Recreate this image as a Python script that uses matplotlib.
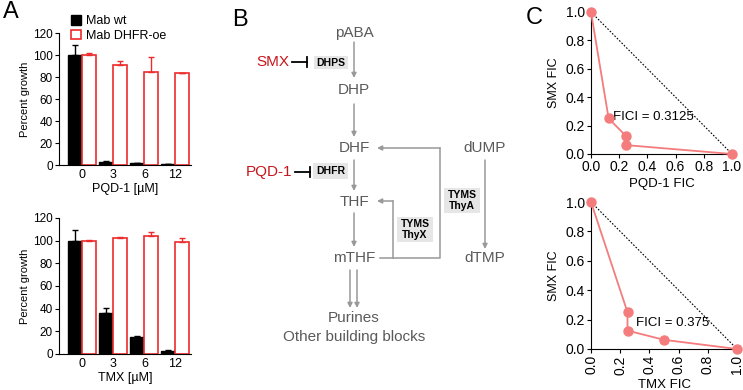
import numpy as np
import matplotlib.pyplot as plt
from matplotlib.patches import Patch

plt.rcParams['font.family'] = ['Liberation Sans', 'DejaVu Sans']

# panel A data
conc_pqd = ['0', '3', '6', '12']
pqd_wt = [100, 3, 1.5, 0.5]
pqd_wt_err = [9, 0.5, 0.5, 0.3]
pqd_oe = [100, 90.5, 85, 83.5]
pqd_oe_err = [1.5, 4, 13, 0.5]

conc_tmx = ['0', '3', '6', '12']
tmx_wt = [100, 36, 15, 3]
tmx_wt_err = [9, 5, 1, 0.5]
tmx_oe = [99.5, 102, 104, 98.5]
tmx_oe_err = [1.5, 1, 4, 4]

# panel C data (isobolograms)
pqd_fic = [0, 0.125, 0.25, 0.25, 1.0]
smx_fic_pqd = [1.0, 0.25, 0.125, 0.0625, 0]
tmx_fic = [0, 0.25, 0.25, 0.5, 1.0]
smx_fic_tmx = [1.0, 0.25, 0.125, 0.0625, 0]
fici_pqd = 0.3125
fici_tmx = 0.375

RED = '#ee2b2b'
PINK = '#f47c7c'
GRAY = '#5a5a5a'
ARROW = '#999999'

W, H = 743, 390
fig = plt.figure(figsize=(W / 100, H / 100), dpi=100)


def px_axes(x0, y0, x1, y1):
    return fig.add_axes([x0 / W, 1 - y1 / H, (x1 - x0) / W, (y1 - y0) / H])


def bar_panel(ax, labels, wt, wt_err, oe, oe_err, xlabel):
    x = np.arange(len(labels))
    bw = 0.45
    ax.bar(x - bw / 2, wt, bw, color='black', edgecolor='black', lw=1,
           yerr=[np.zeros(len(wt)), wt_err], capsize=2.5,
           error_kw=dict(ecolor='black', lw=1, capthick=1))
    ax.bar(x + bw / 2, oe, bw, color='white', edgecolor=RED, lw=1.2,
           yerr=[np.zeros(len(oe)), oe_err], capsize=2.5,
           error_kw=dict(ecolor=RED, lw=1, capthick=1))
    ax.set_xlim(-0.75, 3.5)
    ax.set_ylim(0, 120)
    ax.set_yticks(range(0, 121, 20))
    ax.set_xticks(x)
    ax.set_xticklabels(labels)
    ax.tick_params(axis='x', length=0, labelsize=9, pad=3)
    ax.tick_params(axis='y', length=3, labelsize=8.5, pad=1.5)
    ax.minorticks_off()
    ax.spines[['top', 'right']].set_visible(False)
    ax.set_ylabel('Percent growth', fontsize=8, labelpad=2)
    ax.set_xlabel(xlabel, fontsize=9, labelpad=1)


axA1 = px_axes(59, 33, 191, 165)
bar_panel(axA1, conc_pqd, pqd_wt, pqd_wt_err, pqd_oe, pqd_oe_err, 'PQD-1 [µM]')
axA1.legend(handles=[Patch(facecolor='black', edgecolor='black'),
                     Patch(facecolor='white', edgecolor=RED, lw=1.2)],
            labels=['Mab wt', 'Mab DHFR-oe'], frameon=False, fontsize=9,
            handlelength=0.8, handleheight=0.8, handletextpad=0.4,
            labelspacing=0.2, borderaxespad=0,
            loc='upper left', bbox_to_anchor=(66 / W, 1 - 10 / H),
            bbox_transform=fig.transFigure)

axA2 = px_axes(59, 218, 191, 354)
bar_panel(axA2, conc_tmx, tmx_wt, tmx_wt_err, tmx_oe, tmx_oe_err, 'TMX [µM]')


def fic_panel(ax, xs, ys, fici, tx, ty, xlabel, rotate):
    ax.plot([0, 1], [1, 0], ls=(0, (1.5, 1.5)), color='black', lw=0.8)
    ax.plot(xs, ys, color=PINK, lw=1.3, marker='o', ms=6.5,
            mec=PINK, mfc=PINK, clip_on=False, zorder=5)
    ax.text(tx, ty, f'FICI = {fici}', fontsize=9.5, color='black', va='center')
    ax.set_xlim(0, 1)
    ax.set_ylim(0, 1)
    ticks = np.arange(0, 1.01, 0.2)
    ax.set_xticks(ticks)
    ax.set_yticks(ticks)
    ax.set_xticklabels([f'{t:.1f}' for t in ticks], rotation=90 if rotate else 0)
    ax.set_yticklabels([f'{t:.1f}' for t in ticks])
    ax.tick_params(length=3, labelsize=10, pad=1.5)
    ax.spines[['top', 'right']].set_visible(False)
    ax.set_ylabel('SMX FIC', fontsize=9, labelpad=4)
    ax.set_xlabel(xlabel, fontsize=9.5, labelpad=3)


axC1 = px_axes(591, 12, 732, 154)
fic_panel(axC1, pqd_fic, smx_fic_pqd, fici_pqd, 0.155, 0.26, 'PQD-1 FIC', False)
axC2 = px_axes(591, 202, 737, 349)
fic_panel(axC2, tmx_fic, smx_fic_tmx, fici_tmx, 0.31, 0.18, 'TMX FIC', True)

# panel B pathway diagram, drawn in pixel coordinates
axB = fig.add_axes([0, 0, 1, 1], zorder=-1)
axB.set_xlim(0, W)
axB.set_ylim(H, 0)
axB.axis('off')


def node(x, y, s):
    axB.text(x, y, s, ha='center', va='center', fontsize=11, color=GRAY)


def arrow(x0, y0, x1, y1):
    axB.annotate('', xy=(x1, y1), xytext=(x0, y0),
                 arrowprops=dict(arrowstyle='-|>', color=ARROW, lw=1.1,
                                 mutation_scale=7, shrinkA=0, shrinkB=0))


def enzyme(x0, y0, x1, y1, s):
    axB.add_patch(plt.Rectangle((x0, y0), x1 - x0, y1 - y0,
                                facecolor='#e6e6e6', edgecolor='none'))
    axB.text((x0 + x1) / 2, (y0 + y1) / 2, s, ha='center', va='center',
             fontsize=7.5, fontweight='bold', color='black', linespacing=1.2)


def inhibitor(xr, y, s):
    axB.text(xr, y, s, ha='right', va='center', fontsize=11, color='#c8161d')
    axB.plot([xr + 3, xr + 18], [y, y], color='black', lw=1.3)
    axB.plot([xr + 18, xr + 18], [y - 5, y + 5], color='black', lw=1.3)


node(354, 33, 'pABA')
node(354, 90, 'DHP')
node(354, 148, 'DHF')
node(354, 202, 'THF')
node(354, 258, 'mTHF')
node(485, 148, 'dUMP')
node(485, 258, 'dTMP')
axB.text(354, 318, 'Purines', ha='center', va='center', fontsize=11, color=GRAY)
axB.text(354, 337, 'Other building blocks', ha='center', va='center',
         fontsize=11, color=GRAY)

arrow(354, 42, 354, 78)
arrow(354, 104, 354, 137)
arrow(354, 160, 354, 191)
arrow(354, 213, 354, 247)
arrow(350, 270, 350, 308)
arrow(357, 270, 357, 308)
arrow(485, 160, 485, 249)

# thymidylate loops back to DHF / THF
axB.plot([380, 440, 440], [258, 258, 148], color=ARROW, lw=1.1)
arrow(440, 148, 377, 148)
axB.plot([393, 393], [258, 201], color=ARROW, lw=1.1)
arrow(393, 201, 377, 201)

enzyme(314, 56, 348, 69, 'DHPS')
enzyme(313, 163, 348, 179, 'DHFR')
enzyme(397, 217, 433, 242, 'TYMS\nThyX')
enzyme(444, 188, 480, 213, 'TYMS\nThyA')

inhibitor(289, 62, 'SMX')
inhibitor(292, 172, 'PQD-1')

for x, y, s in [(3, 12, 'A'), (232, 20, 'B'), (526, 18, 'C')]:
    fig.text(x / W, 1 - y / H, s, fontsize=17, va='center', ha='left')

fig.savefig('out.png', dpi=100)
